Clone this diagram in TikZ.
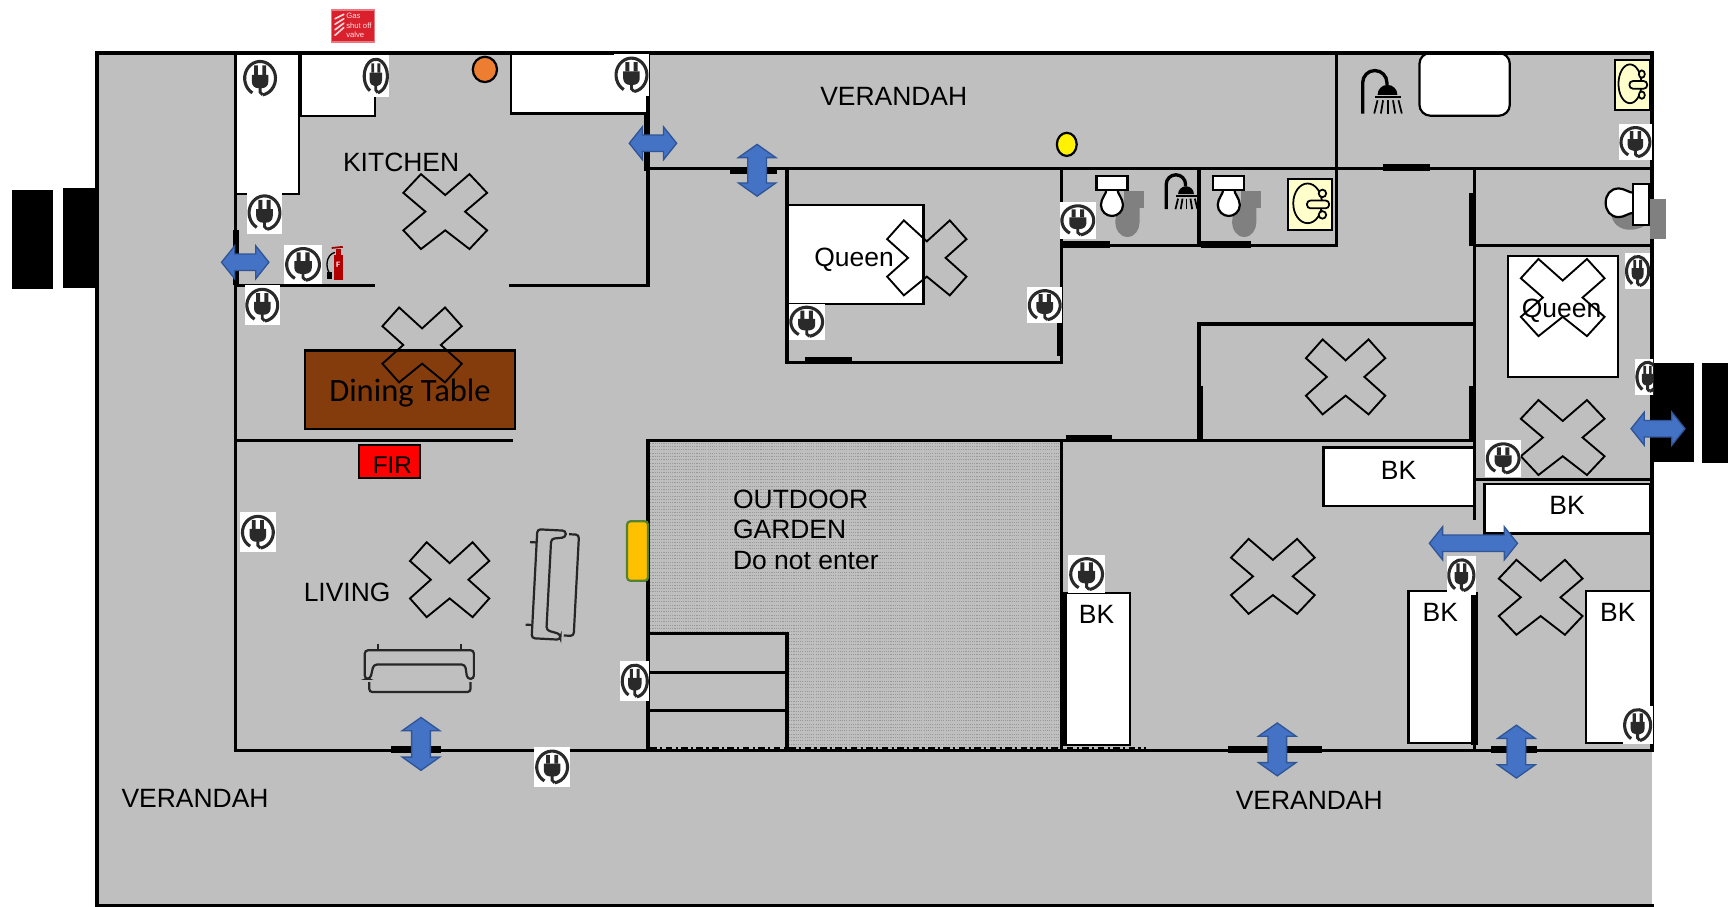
\documentclass[tikz,border=0pt]{standalone}
\usepackage{fontspec}
\setmainfont{Liberation Sans}
\newfontfamily\calibrifont{Carlito}
\usetikzlibrary{calc}
\definecolor{floorgray}{HTML}{BFBFBF}
\definecolor{arrowblue}{HTML}{4472C4}
\definecolor{arrowedge}{HTML}{2F5597}
\definecolor{sinkyellow}{HTML}{FFFFCC}
\definecolor{shadowgray}{HTML}{808080}
\definecolor{plugdark}{HTML}{2A2A2A}
\definecolor{signred}{HTML}{D9202C}
\definecolor{tablebrown}{HTML}{843C0C}
\definecolor{dotorange}{HTML}{ED7D31}
\definecolor{padgreen}{HTML}{548235}
\definecolor{padyellow}{HTML}{FFC000}
\tikzset{
  wall/.style={draw=black,line width=3pt,line cap=rect},
  thickwall/.style={draw=black,line width=6pt},
  furn/.style={draw=black,fill=white,line width=2pt},
  marker/.style={draw=black,line width=1.7pt,line join=miter},
  lbl/.style={font=\fontsize{24}{28}\selectfont,text=black,inner sep=0pt},
  sofaline/.style={draw=black!85,line width=2pt,rounded corners=3pt},
  dbl/.style={fill=arrowblue,draw=arrowedge,line width=1.2pt,line join=miter}
}
% X marker: cx cy half-w half-h
\newcommand{\xmark}[4]{\draw[marker,shift={(#1,#2)},xscale=#3/38,yscale=#4/34]
 (0,-15)--(22,-34)--(38,-17)--(18,0)--(38,17)--(22,34)--(0,17)--(-22,34)--(-38,17)--(-18,0)--(-38,-17)--(-22,-34)--cycle;}
% power outlet: cx cy w h
\newcommand{\outlet}[4]{\begin{scope}[shift={(#1,#2)},xscale=#3/32,yscale=#4/36]
 \fill[white] (-16,-18) rectangle (16,18);
 \draw[plugdark,line width=2.8pt] (-7,12.6) arc[start angle=120,end angle=440,x radius=14,y radius=14.5];
 \fill[plugdark] (-7.5,-3) -- (7.5,-3) -- (7.5,3) .. controls (7.5,7) and (4,8.5) .. (2,8.5) -- (-2,8.5) .. controls (-4,8.5) and (-7.5,7) .. (-7.5,3) -- cycle;
 \fill[plugdark] (-5.5,-11) rectangle (-2,-3) (2,-11) rectangle (5.5,-3);
 \draw[plugdark,line width=2.6pt] (0,8) -- (0,12) -- (2.4,14.3);
\end{scope}}
% double arrow horizontal: x1 x2 y h
\newcommand{\harrow}[4]{\draw[dbl] (#1,#3) -- (#1+12,#3-#4/2) -- (#1+12,#3-#4/4) -- (#2-12,#3-#4/4) -- (#2-12,#3-#4/2) -- (#2,#3) -- (#2-12,#3+#4/2) -- (#2-12,#3+#4/4) -- (#1+12,#3+#4/4) -- (#1+12,#3+#4/2) -- cycle;}
% double arrow vertical: x y1 y2 w
\newcommand{\varrow}[4]{\draw[dbl] (#1,#2) -- (#1+#4/2,#2+12) -- (#1+#4/4,#2+12) -- (#1+#4/4,#3-12) -- (#1+#4/2,#3-12) -- (#1,#3) -- (#1-#4/2,#3-12) -- (#1-#4/4,#3-12) -- (#1-#4/4,#2+12) -- (#1-#4/2,#2+12) -- cycle;}
% shower: x y (top-left of icon) scale
\newcommand{\shower}[3]{\begin{scope}[shift={(#1,#2)},scale=#3]
 \draw[black,line width=3pt] (1.5,41) -- (1.5,13) arc[start angle=180,end angle=360,radius=11] -- (23.5,15);
 \fill[black] (15,24) arc[start angle=180,end angle=360,x radius=9,y radius=9] -- cycle;
 \draw[black,line width=2pt] (13,26) -- (36,26);
 \foreach \a/\b in {15/12,20/18,24.5/24.5,29/31,34/37} \draw[black,line width=1.6pt] (\a,29) -- (\b,41);
\end{scope}}
% toilet facing down: x y = tank centre
\newcommand{\toilet}[2]{\begin{scope}[shift={(#1,#2)}]
 \fill[shadowgray] (11,7) rectangle (29,23);
 \fill[shadowgray] (14,49) .. controls (7,49) and (3,42) .. (3,36) .. controls (3,28) and (8,20) .. (14,15) -- (25,15) -- (25,36) .. controls (25,42) and (21,49) .. (14,49) -- cycle;
 \draw[furn] (-5,6) .. controls (-5,10) and (-10,14) .. (-10,20) .. controls (-10,26) and (-5,30) .. (0,30) .. controls (5,30) and (10,26) .. (10,20) .. controls (10,14) and (5,10) .. (5,6) -- cycle;
 \draw[furn] (-14,-6.5) rectangle (14,6.5);
\end{scope}}
% sink: x1 y1 x2 y2
\newcommand{\sink}[4]{\begin{scope}[shift={(#1,#2)},xscale=(#3-#1)/40,yscale=(#4-#2)/47]
 \draw[draw=black,fill=sinkyellow,line width=1.8pt] (0,0) rectangle (40,47);
 \draw[line width=1.6pt] (17.5,22.5) ellipse [x radius=13,y radius=18];
 \draw[line width=1.6pt,fill=sinkyellow,rounded corners=3pt] (17,20) rectangle (37,27);
 \draw[line width=1.6pt,fill=sinkyellow] (31,13.5) circle (3.4) (31,33) circle (3.4);
\end{scope}}
\newcommand{\sofabody}{
 \draw[sofaline] (-50,10) -- (-50,-16) -- (49,-16) -- (49,10) -- (43,10) -- (41,-3) -- (-42,-3) -- (-45,10) -- cycle;
 \draw[sofaline] (-46,13) -- (-46,22) -- (46,22) -- (46,13);
 \draw[draw=black!85,line width=2pt] (-38,-22) -- (-38,-16) (37,-22) -- (37,-16);
}
\begin{document}
\begin{tikzpicture}[x=1pt,y=-1pt]
\useasboundingbox (0,0) rectangle (1568,823);
% door blocks
\fill[black] (11,172) rectangle (48,262);
\fill[black] (57,171) rectangle (88,261);
% floor
\fill[floorgray] (88,48) rectangle (1499,822);
% garden
\foreach \yy in {402,405,...,680} \draw[black!40,line width=.6pt,dash pattern=on 1pt off 1pt] (590,\yy) -- (962,\yy);
\fill[floorgray] (588,575) rectangle (714,681);
% counters and beds
\draw[furn] (214,48) rectangle (271,176);
\draw[furn] (273,48) rectangle (340,105);
\draw[furn] (464,48) rectangle (588,103);
\draw[furn] (714,186) rectangle (838,276);
\draw[furn] (1368,232) rectangle (1468,342);
\draw[furn] (1201,406) rectangle (1338,459);
\draw[furn] (1347,439) rectangle (1497,484);
\draw[furn] (965,538) rectangle (1025,676);
\draw[furn] (1278,536) rectangle (1337,674);
\draw[furn] (1439,536) rectangle (1498,674);
\draw[furn,rounded corners=10pt] (1288,48) rectangle (1370,105);
% walls
\draw[wall] (1499,48) -- (88,48) -- (88,822) -- (1499,822);
\draw[wall] (1499,48) -- (1499,681);
\draw[wall] (214,48) -- (214,681) -- (1499,681);
\draw[wall] (214,259) -- (339,259) (463,259) -- (588,259) -- (588,48);
\draw[wall] (214,400) -- (464,400);
\draw[wall] (588,153) -- (1499,153);
\draw[wall] (714,153) -- (714,329) -- (963,329) -- (963,153);
\draw[wall] (963,223) -- (1213,223) -- (1213,48);
\draw[wall] (1088,153) -- (1088,223);
\draw[wall] (1338,153) -- (1338,470);
\draw[wall] (1338,223) -- (1499,223);
\draw[wall] (1088,400) -- (1088,294) -- (1338,294);
\draw[wall] (588,681) -- (588,400) -- (1338,400);
\draw[wall] (963,400) -- (963,681);
\draw[wall] (1338,435) -- (1499,435);
\draw[wall] (1338,537) -- (1338,681);
\draw[wall] (588,575) -- (714,575) -- (714,681);
\draw[wall] (588,610) -- (714,610) (588,645) -- (714,645);
% thick door jambs
\draw[thickwall] (214,209) -- (214,259);
\draw[thickwall] (587,103) -- (587,155);
\draw[thickwall] (662,155) -- (705,155);
\draw[thickwall] (730,327) -- (773,327);
\draw[thickwall] (962,293) -- (962,323);
\draw[thickwall] (965,222) -- (1007,222);
\draw[thickwall] (1090,222) -- (1135,222);
\draw[thickwall] (1255,152) -- (1298,152);
\draw[thickwall] (1336,175) -- (1336,223);
\draw[thickwall] (1336,350) -- (1336,398);
\draw[thickwall] (1089,350) -- (1089,400);
\draw[thickwall] (967,398) -- (1009,398);
\draw[thickwall] (355,680) -- (400,680);
\draw[thickwall] (1114,680) -- (1200,680);
\draw[thickwall] (1353,680) -- (1395,680);
\draw[thickwall] (965,538) -- (965,676);
\draw[thickwall] (1338,537) -- (1338,676);
\draw[black,line width=1.5pt,dash pattern=on 6pt off 3pt on 2pt off 3pt] (590,679) -- (1040,679);
% outside blocks (right)
\fill[black] (1500,329) rectangle (1537,419);
\fill[black] (1544,329) rectangle (1568,420);
% dining table
\draw[draw=black,fill=tablebrown,line width=2pt] (277,318) rectangle (467,389);
\node[font=\calibrifont\fontsize{29.5}{30}\selectfont,inner sep=0pt] (dining) at (372,356.5) {Dining Table};
% FIR
\draw[draw=black,fill=red,line width=1.6pt] (326,404) rectangle (381,434);
\node[font=\fontsize{22}{26}\selectfont,inner sep=0pt] (fir) at (356,422) {FIR};
% sign
\fill[signred!60!white] (300,8) rectangle (340,39);
\fill[signred] (301,10) rectangle (339,37);
\foreach \dy in {0,5,10,15} \draw[white!85!red,line width=1.5pt,line cap=round] (304,17+\dy) -- (312,13+\dy*.8);
\node[font=\fontsize{7}{8.4}\selectfont,text=white!90!red,align=left,inner sep=0pt,anchor=west] (sign) at (314,23) {Gas\\shut off\\valve};
% circles
\draw[draw=black,fill=dotorange,line width=2pt] (440,63) ellipse [x radius=11,y radius=11.5];
\draw[draw=black,fill=yellow,line width=2pt] (968,131) ellipse [x radius=9,y radius=10.5];
\draw[draw=padgreen,fill=padyellow,line width=2pt,rounded corners=3pt] (588,473) -- (569,473) -- (569,527) -- (588,527) -- cycle;
% X marks
\xmark{404}{192}{38}{34}
\xmark{383}{313}{36}{34}
\xmark{841}{234}{36}{34}
\xmark{1221}{342}{36}{34}
\xmark{1418}{270}{38}{35}
\xmark{1418}{397}{38}{34}
\xmark{1155}{523}{38}{34}
\xmark{1398}{542}{38}{34}
\xmark{408}{526}{36}{34}
% outlets
\outlet{236}{71}{32}{38}
\outlet{341}{69}{24}{38}
\outlet{573}{68}{32}{38}
\outlet{240}{193}{32}{38}
\outlet{275}{240}{34}{36}
\outlet{238}{277}{32}{36}
\outlet{234}{483}{32}{36}
\outlet{576}{618}{26}{36}
\outlet{501}{696}{32}{36}
\outlet{732}{292}{33}{33}
\outlet{948}{277}{32}{33}
\outlet{978}{200}{33}{33}
\outlet{1484}{129}{30}{33}
\outlet{1486}{246}{23}{33}
\outlet{1364}{416}{33}{33}
\outlet{986}{521}{33}{35}
\outlet{1326}{522}{26}{35}
\outlet{1486}{658}{27}{35}
\begin{scope}\clip (1470,320) rectangle (1500,370); \outlet{1495}{342}{22}{33} \end{scope}
% extinguisher
\draw[black,line width=1.2pt] (304,229) .. controls (296,231) and (295,242) .. (299,248);
\fill[black] (297,247) rectangle (301,253);
\fill[red!70!black] (303,231) rectangle (311,254);
\fill[red!70!black] (305,226) rectangle (309,231);
\draw[red!60!black,line width=1.6pt] (301,225) -- (311,224);
\node[font=\sffamily\bfseries\fontsize{7}{8}\selectfont,text=white,inner sep=0pt] (ext) at (307,240) {F};
% bath fittings
\shower{1235}{62}{1}
\shower{1057}{157}{.8}
\toilet{1009}{166}
\toilet{1115}{166}
\fill[shadowgray] (1497,181) rectangle (1512,217);
\fill[shadowgray] (1462,195) .. controls (1464,206) and (1474,210) .. (1484,208) .. controls (1490,207) and (1496,203) .. (1499,199) -- (1497,192) -- cycle;
\draw[furn] (1483,175) .. controls (1478,175) and (1474,171) .. (1469,171) .. controls (1461,171) and (1457,177) .. (1457,184) .. controls (1457,191) and (1461,197) .. (1469,197) .. controls (1474,197) and (1478,193) .. (1483,193) -- cycle;
\draw[furn] (1482,167) rectangle (1496,204);
\sink{1169}{162}{1209}{209}
\sink{1465}{54}{1497}{100}
% sofas
\begin{scope}[shift={(381,606)}]\sofabody\end{scope}
\begin{scope}[shift={(501,530)},rotate=87]\sofabody\end{scope}
% arrows
\harrow{571}{614}{130}{30}
\harrow{201}{244}{238}{30}
\harrow{1480}{1529}{389}{30}
\harrow{1297}{1377}{493}{30}
\varrow{687}{131}{178}{34}
\varrow{382}{651}{699}{34}
\varrow{1159}{656}{704}{34}
\varrow{1376}{658}{706}{34}
% labels
\node[lbl] (kitchen) at (364,147) {KITCHEN};
\node[lbl] (ver1) at (811,87.5) {VERANDAH};
\node[lbl] (ver2) at (177,724.5) {VERANDAH};
\node[lbl] (ver3) at (1188,726) {VERANDAH};
\node[lbl] (living) at (315,537.5) {LIVING};
\node[lbl] (queen1) at (775,236) {Queen};
\node[lbl] (queen2) at (1417,282) {Queen};
\node[lbl] (bk1) at (1269,426.5) {BK};
\node[lbl] (bk2) at (1422,458.5) {BK};
\node[lbl] (bk3) at (995,557.5) {BK};
\node[lbl] (bk4) at (1307,555.5) {BK};
\node[lbl] (bk5) at (1468,555.5) {BK};
\node[lbl,align=left,anchor=north west] (garden) at (665,444) {OUTDOOR\\GARDEN\\Do not enter};
\end{tikzpicture}
\end{document}
